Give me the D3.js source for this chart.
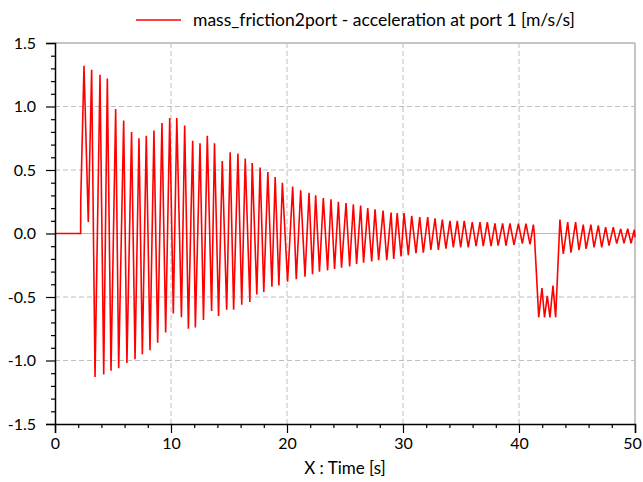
<!DOCTYPE html>
<html>
<head>
<meta charset="utf-8">
<script src="https://cdn.jsdelivr.net/npm/d3@7"></script>
<style>
  body { margin: 0; background: #fff; }
  svg { display: block; }
  text { font-family: Lato, "Open Sans", sans-serif; fill: #000; }
</style>
</head>
<body>
<svg id="chart" width="643" height="482"></svg>
<script>
// Labels
const seriesName = "mass_friction2port - acceleration at port 1 [m/s/s]";
const xTitle = "X : Time [s]";

// Axis ticks
const xMajorTicks = [0, 10, 20, 30, 40, 50];
const xMinorTicks = [2, 4, 6, 8, 12, 14, 16, 18, 22, 24, 26, 28, 32, 34, 36, 38, 42, 44, 46, 48];
const yMajorTicks = [-1.5, -1.0, -0.5, 0.0, 0.5, 1.0, 1.5];
const yMinorTicks = [-1.4, -1.3, -1.2, -1.1, -0.9, -0.8, -0.7, -0.6, -0.4, -0.3, -0.2, -0.1,
                     0.1, 0.2, 0.3, 0.4, 0.6, 0.7, 0.8, 0.9, 1.1, 1.2, 1.3, 1.4];

// Simulation output: time [s] and acceleration at port 1 [m/s/s]
const time = [
  0, 2.21, 2.22, 2.36, 2.50, 2.87, 3.16, 3.45,
  3.88, 4.20, 4.51, 4.83, 5.23, 5.49, 5.92, 6.20, 6.60, 6.90, 7.24, 7.53,
  7.87, 8.19, 8.53, 8.85, 9.22, 9.54, 9.89, 10.20, 10.50, 10.90, 11.18, 11.50,
  11.87, 12.10, 12.50, 12.80, 13.13, 13.50, 13.75, 14.10, 14.42, 14.80, 15.10, 15.40,
  15.77, 16.10, 16.40, 16.80, 17.00, 17.40, 17.68, 18.00, 18.35, 18.70, 18.98, 19.30,
  19.60, 20.05, 20.49, 20.80, 21.18, 21.55, 21.90, 22.20, 22.47, 22.80, 23.13, 23.50,
  23.79, 24.10, 24.43, 24.70, 25.09, 25.40, 25.72, 26.00, 26.35, 26.60, 26.96, 27.30,
  27.59, 27.90, 28.28, 28.60, 28.97, 29.20, 29.50, 29.83, 30.09, 30.46, 30.75, 31.12,
  31.44, 31.75, 32.13, 32.40, 32.76, 33.05, 33.39, 33.70, 34.05, 34.34, 34.68, 34.97,
  35.28, 35.63, 35.97, 36.30, 36.64, 36.92, 37.27, 37.59, 37.93, 38.20, 38.59, 38.88,
  39.22, 39.57, 39.95, 40.29, 40.60, 40.95, 41.24, 41.32,
  41.70, 41.98, 42.20, 42.44, 42.67, 42.93, 43.16, 43.53,
  43.82, 44.20, 44.48, 44.88, 45.17, 45.54, 45.78, 46.20, 46.47, 46.84, 47.13, 47.47,
  47.76, 48.13, 48.42, 48.77, 49.05, 49.37, 49.66, 49.94, 50.00
];
const accel = [
  0, 0, 0.26, 0.79, 1.32, 0.09, 1.29, -1.13,
  1.25, -1.11, 1.22, -1.08, 0.98, -1.06, 0.89, -1.02, 0.80, -0.99, 0.75, -0.95,
  0.77, -0.92, 0.81, -0.86, 0.87, -0.78, 0.91, -0.63, 0.91, -0.66, 0.85, -0.75,
  0.73, -0.74, 0.71, -0.68, 0.77, -0.61, 0.71, -0.65, 0.57, -0.60, 0.64, -0.60,
  0.63, -0.56, 0.59, -0.54, 0.555, -0.48, 0.52, -0.46, 0.485, -0.42, 0.445, -0.41,
  0.40, -0.38, 0.37, -0.36, 0.34, -0.34, 0.32, -0.32, 0.30, -0.30, 0.28, -0.29,
  0.27, -0.28, 0.25, -0.27, 0.24, -0.26, 0.23, -0.24, 0.22, -0.23, 0.20, -0.22,
  0.19, -0.21, 0.18, -0.21, 0.165, -0.20, 0.16, -0.18, 0.16, -0.17, 0.14, -0.155,
  0.13, -0.15, 0.13, -0.13, 0.12, -0.13, 0.11, -0.12, 0.10, -0.11, 0.10, -0.11,
  0.10, -0.11, 0.09, -0.10, 0.09, -0.10, 0.09, -0.10, 0.08, -0.095, 0.08, -0.095,
  0.08, -0.09, 0.077, -0.08, 0.077, -0.085, 0.07, 0.0,
  -0.66, -0.43, -0.66, -0.49, -0.66, -0.41, -0.66, 0.11,
  -0.16, 0.09, -0.15, 0.09, -0.13, 0.07, -0.12, 0.07, -0.11, 0.063, -0.11, 0.05,
  -0.095, 0.05, -0.08, 0.037, -0.077, 0.037, -0.077, 0.03, -0.03
];

const svg = d3.select("#chart");
const margin = { left: 55, right: 8, top: 43, bottom: 58 };
const W = 643, H = 482;

const x = d3.scaleLinear().domain([0, 50]).range([margin.left, W - margin.right]);
const y = d3.scaleLinear().domain([-1.5, 1.5]).range([H - margin.bottom, margin.top]);

// Grid
const grid = svg.append("g");
grid.selectAll("line.hgrid")
  .data(yMajorTicks.filter(d => d !== 0 && d !== -1.5 && d !== 1.5))
  .join("line")
  .attr("x1", x(0)).attr("x2", x(50))
  .attr("y1", d => y(d)).attr("y2", d => y(d))
  .attr("stroke", "#bdbdbd").attr("stroke-width", 1).attr("stroke-dasharray", "5,3");
grid.selectAll("line.vgrid")
  .data(xMajorTicks.filter(d => d !== 0 && d !== 50))
  .join("line")
  .attr("y1", y(-1.5)).attr("y2", y(1.5))
  .attr("x1", d => x(d)).attr("x2", d => x(d))
  .attr("stroke", "#bdbdbd").attr("stroke-width", 1).attr("stroke-dasharray", "5,3");
// zero line
grid.append("line")
  .attr("x1", x(0)).attr("x2", x(50)).attr("y1", y(0)).attr("y2", y(0))
  .attr("stroke", "#b8b8b8").attr("stroke-width", 1.2);
// frame top and right
grid.append("line")
  .attr("x1", x(0)).attr("x2", x(50)).attr("y1", y(1.5)).attr("y2", y(1.5))
  .attr("stroke", "#c4c4c4").attr("stroke-width", 2);
grid.append("line")
  .attr("x1", x(50)).attr("x2", x(50)).attr("y1", y(1.5)).attr("y2", y(-1.5))
  .attr("stroke", "#c4c4c4").attr("stroke-width", 2);

// Series
const pts = time.map((t, i) => [t, accel[i]]);
svg.append("path")
  .datum(pts)
  .attr("fill", "none")
  .attr("stroke", "#ff0000")
  .attr("stroke-width", 1.6)
  .attr("stroke-linejoin", "miter")
  .attr("d", d3.line().x(d => x(d[0])).y(d => y(d[1])));

// Axes
const yAxisMinor = svg.append("g")
  .attr("transform", `translate(${x(0)},0)`)
  .call(d3.axisLeft(y).tickValues(yMinorTicks).tickSize(4).tickFormat(""));
const yAxis = svg.append("g")
  .attr("transform", `translate(${x(0)},0)`)
  .call(d3.axisLeft(y).tickValues(yMajorTicks).tickSize(9).tickPadding(10)
        .tickFormat(d => d.toFixed(1)));
const xAxisMinor = svg.append("g")
  .attr("transform", `translate(0,${y(-1.5)})`)
  .call(d3.axisBottom(x).tickValues(xMinorTicks).tickSize(4).tickFormat(""));
const xAxis = svg.append("g")
  .attr("transform", `translate(0,${y(-1.5)})`)
  .call(d3.axisBottom(x).tickValues(xMajorTicks).tickSize(9).tickPadding(5)
        .tickFormat(d => String(d)));

svg.selectAll(".domain").attr("stroke", "#000").attr("stroke-width", 1.5);
svg.selectAll(".tick line").attr("stroke", "#000").attr("stroke-width", 1.2);
yAxisMinor.select(".domain").remove();
xAxisMinor.select(".domain").remove();
svg.selectAll(".tick text")
  .style("font-family", "Lato, 'Open Sans', sans-serif")
  .style("font-size", "16px").attr("fill", "#000");
// keep the last x label inside the canvas
xAxis.selectAll(".tick text").filter(d => d === 50).attr("dx", -3);

// Axis title
svg.append("text")
  .attr("x", (x(0) + x(50)) / 2)
  .attr("y", 474)
  .attr("text-anchor", "middle")
  .style("font-size", "17px")
  .text(xTitle);

// Legend
const legend = svg.append("g");
legend.append("line")
  .attr("x1", 136).attr("x2", 181).attr("y1", 20).attr("y2", 20)
  .attr("stroke", "#ff0000").attr("stroke-width", 1.5);
const legendText = legend.append("text")
  .attr("x", 193).attr("y", 26)
  .style("font-size", "16px")
  .text(seriesName);
// size the legend label to span up to x = 575
const w16 = legendText.node().getComputedTextLength();
legendText.style("font-size", (16 * 382 / w16).toFixed(2) + "px");
</script>
</body>
</html>
